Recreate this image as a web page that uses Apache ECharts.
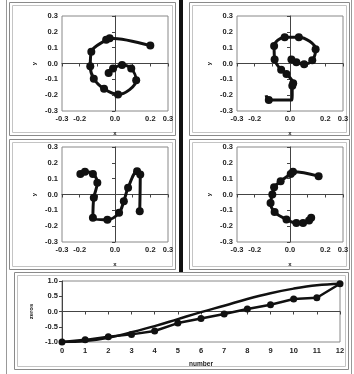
<!DOCTYPE html>
<html><head><meta charset="utf-8">
<script src="https://cdn.jsdelivr.net/npm/echarts@6/dist/echarts.min.js"></script>
<style>html,body{margin:0;padding:0;background:#fff}#c{width:354px;height:374px}</style>
</head><body><div id="c"></div>
<script>
// Panel 1 ("G")
const p1x = [0.20, -0.03, -0.05, -0.134, -0.14, -0.12, -0.062, 0.017, 0.12, 0.092, 0.04, -0.011, -0.036];
const p1y = [0.113, 0.16, 0.15, 0.074, -0.017, -0.096, -0.16, -0.196, -0.106, -0.032, -0.01, -0.032, -0.06];
// Panel 2 ("9"), index 2 is a path corner without a dot
const p2x = [-0.135, -0.12, 0.012, 0.013, 0.018, -0.02, -0.05, -0.087, -0.09, -0.03, 0.05, 0.145, 0.126, 0.08, 0.036, 0.008];
const p2y = [-0.2, -0.23, -0.23, -0.14, -0.125, -0.066, -0.04, 0.026, 0.11, 0.166, 0.166, 0.09, 0.02, -0.004, 0.008, 0.026];
const p2NoDot = [0, 2];
// Panel 3
const p3x = [-0.196, -0.17, -0.125, -0.10, -0.12, -0.125, -0.043, 0.023, 0.05, 0.074, 0.125, 0.143, 0.14];
const p3y = [0.13, 0.143, 0.13, 0.074, -0.02, -0.147, -0.16, -0.116, -0.042, 0.042, 0.147, 0.126, -0.105];
// Panel 4 ("C")
const p4x = [0.162, 0.017, 0.004, -0.053, -0.09, -0.10, -0.11, -0.087, -0.02, 0.036, 0.074, 0.108, 0.12];
const p4y = [0.116, 0.143, 0.13, 0.084, 0.046, 0.0, -0.053, -0.11, -0.158, -0.18, -0.18, -0.164, -0.147];
// Bottom panel
const numbers = [0, 1, 2, 3, 4, 5, 6, 7, 8, 9, 10, 11, 12];
const zerosDots = [-1.0, -0.93, -0.83, -0.75, -0.64, -0.38, -0.23, -0.08, 0.08, 0.22, 0.41, 0.45, 0.91];
const zerosCurve = [-1.0, -0.97, -0.86, -0.68, -0.48, -0.25, -0.02, 0.19, 0.41, 0.6, 0.75, 0.86, 0.91];
const scatterTicks = [-0.3, -0.2, -0.1, 0.0, 0.1, 0.2, 0.3];
const scatterXLabels = ['-0.3', '-0.2', '0.0', '0.2', '0.3'];

const chart = echarts.init(document.getElementById('c'), null, {renderer: 'canvas'});
const FONT = '"Liberation Sans", Arial, sans-serif';
const lab = {fontFamily: FONT, fontSize: 7.5, fontWeight: 'bold', color: '#222'};

const grids = [
  {left: 62, top: 16, width: 106, height: 95},
  {left: 237, top: 16, width: 106, height: 95},
  {left: 62, top: 147, width: 106, height: 95},
  {left: 237, top: 147, width: 106, height: 95},
  {left: 62, top: 281, width: 278, height: 61}
].map(g => Object.assign({show: true, borderColor: '#888', borderWidth: 1, backgroundColor: '#fff'}, g));

function sx(i) {
  return {
    gridIndex: i, type: 'value', min: scatterTicks[0], max: scatterTicks[scatterTicks.length - 1], interval: 0.1,
    name: 'x', nameLocation: 'middle', nameGap: 19,
    nameTextStyle: {fontFamily: FONT, fontSize: 6, fontWeight: 'bold', color: '#222'},
    axisLine: {show: true, lineStyle: {color: '#444'}},
    axisTick: {show: true, length: 3, lineStyle: {color: '#444'}},
    splitLine: {show: false},
    axisLabel: Object.assign({margin: 4, showMinLabel: true, showMaxLabel: true,
      formatter: v => { const s = (Math.round(v * 10) / 10).toFixed(1).replace('-0.0', '0.0'); return scatterXLabels.includes(s) ? s : ''; }}, lab)
  };
}
function sy(i) {
  return {
    gridIndex: i, type: 'value', min: scatterTicks[0], max: scatterTicks[scatterTicks.length - 1], interval: 0.1,
    name: 'y', nameLocation: 'middle', nameGap: 25, nameRotate: 90,
    nameTextStyle: {fontFamily: FONT, fontSize: 6, fontWeight: 'bold', color: '#222'},
    axisLine: {show: true, lineStyle: {color: '#444'}},
    axisTick: {show: true, length: 3, lineStyle: {color: '#444'}},
    splitLine: {show: false},
    axisLabel: Object.assign({margin: 4, showMinLabel: true, showMaxLabel: true,
      formatter: v => (Math.round(v * 10) / 10).toFixed(1).replace('-0.0', '0.0')}, lab)
  };
}

function pathSeries(i, xs, ys, noDot) {
  return {
    type: 'line', xAxisIndex: i, yAxisIndex: i, smooth: 0.35,
    data: xs.map((x, k) => {
      const item = {value: [x, ys[k]]};
      if (noDot && noDot.includes(k)) item.symbol = 'none';
      return item;
    }),
    symbol: 'circle', symbolSize: 8, showAllSymbol: true,
    lineStyle: {color: '#111', width: 3},
    itemStyle: {color: '#111'}, z: 3, animation: false
  };
}

const xAxes = [sx(0), sx(1), sx(2), sx(3), {
  gridIndex: 4, type: 'value', min: 0, max: 12, interval: 1,
  name: 'number', nameLocation: 'middle', nameGap: 19,
  nameTextStyle: {fontFamily: FONT, fontSize: 6.5, fontWeight: 'bold', color: '#222'},
  axisLine: {show: true, lineStyle: {color: '#444'}},
  axisTick: {show: true, length: 3, lineStyle: {color: '#444'}},
  splitLine: {show: false},
  axisLabel: Object.assign({margin: 5}, lab)
}];
const yAxes = [sy(0), sy(1), sy(2), sy(3), {
  gridIndex: 4, type: 'value', min: -1, max: 1, interval: 0.5,
  name: 'zeros', nameLocation: 'middle', nameGap: 26, nameRotate: 90,
  nameTextStyle: {fontFamily: FONT, fontSize: 6, fontWeight: 'bold', color: '#222'},
  axisLine: {show: true, lineStyle: {color: '#444'}},
  axisTick: {show: true, length: 3, lineStyle: {color: '#444'}},
  splitLine: {show: false},
  axisLabel: Object.assign({margin: 4, formatter: v => v.toFixed(1)}, lab)
}];

const frame = {stroke: '#8a8a8a', fill: 'none', lineWidth: 1};
const frame2 = {stroke: '#c4c4c4', fill: 'none', lineWidth: 1};
function box(x, y, w, h, st) { return {type: 'rect', shape: {x: x + 0.5, y: y + 0.5, width: w, height: h}, style: st, silent: true, z: -10}; }

const option = {
  backgroundColor: '#fff',
  animation: false,
  grid: grids,
  xAxis: xAxes,
  yAxis: yAxes,
  graphic: [
    {type: 'line', shape: {x1: 6.5, y1: 0, x2: 6.5, y2: 374}, style: {stroke: '#999', lineWidth: 1}, silent: true, z: -10},
    {type: 'line', shape: {x1: 351.5, y1: 0, x2: 351.5, y2: 374}, style: {stroke: '#999', lineWidth: 1}, silent: true, z: -10},
    box(9, 2, 166, 133, frame), box(12, 5, 160, 127, frame2),
    box(189, 2, 160, 133, frame), box(192, 5, 154, 127, frame2),
    box(9, 139, 166, 130, frame), box(12, 142, 160, 124, frame2),
    box(189, 139, 160, 130, frame), box(192, 142, 154, 124, frame2),
    box(14, 272, 334, 97, frame), box(17, 275, 328, 91, frame2),
    {type: 'rect', shape: {x: 179, y: 0, width: 4, height: 272}, style: {fill: '#111'}, silent: true, z: -9}
  ],
  series: [
    pathSeries(0, p1x, p1y),
    pathSeries(1, p2x, p2y, p2NoDot),
    pathSeries(2, p3x, p3y),
    pathSeries(3, p4x, p4y),
    {type: 'line', xAxisIndex: 4, yAxisIndex: 4, smooth: 0.4, showSymbol: false,
     data: numbers.map((n, k) => [n, zerosCurve[k]]),
     lineStyle: {color: '#111', width: 2.5}, z: 2},
    {type: 'line', xAxisIndex: 4, yAxisIndex: 4, symbol: 'circle', symbolSize: 7, showAllSymbol: true,
     data: numbers.map((n, k) => [n, zerosDots[k]]),
     lineStyle: {color: '#111', width: 2.5}, itemStyle: {color: '#111'}, z: 3}
  ]
};
chart.setOption(option);
</script>
</body></html>
